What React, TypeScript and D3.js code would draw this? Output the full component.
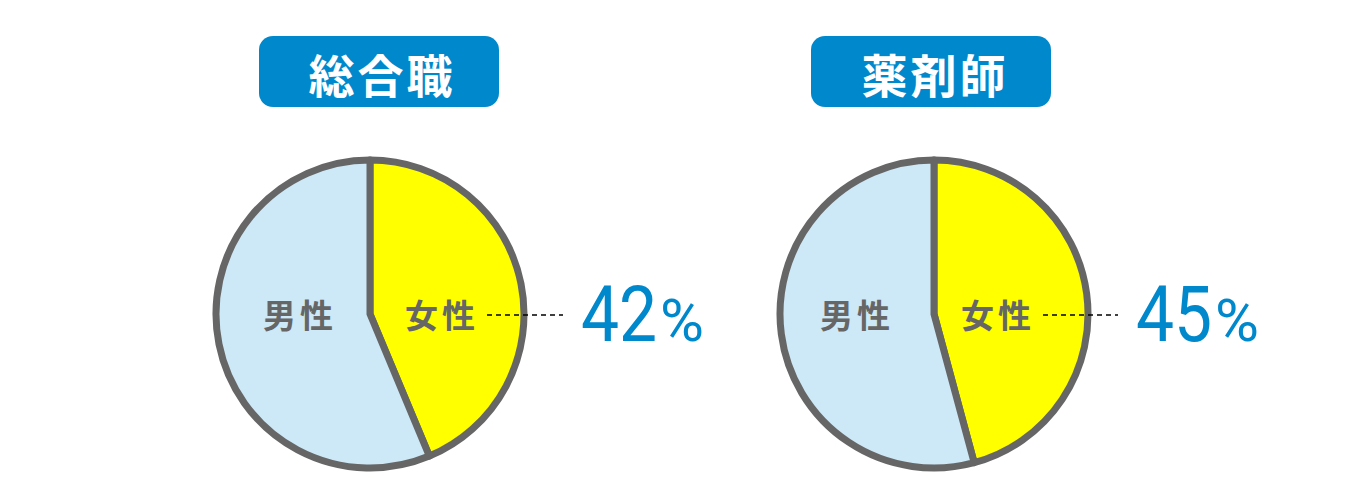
import * as d3 from 'd3';

// chart values
const titles = ['総合職', '薬剤師'];
const femaleLabel = [42, 45];
// slice sizes as drawn in the reference (the artwork is slightly off the printed %)
const femaleSlice = [43.7, 45.8];
const maleSlice = [56.3, 54.2];
const sliceNames = ['女性', '男性'];

const centers = [370, 934];
const badgeCenters = [379, 931];
const titleCenters = [382, 935];
const maleLabelDx = [-70, -77];
const femaleLabelDx = [72, 64];
const leaderStart = [117, 109];
const leaderEnd = [193, 184];
const pctStart = [211, 202];
const cy = 314;
const radius = 154;

const colors = {
  female: '#FFFF00',
  male: '#CDE8F6',
  stroke: '#666666',
  blue: '#0088CC',
  label: '#666666'
};

const jpFont = '"Noto Sans CJK JP", "Noto Sans", sans-serif';

interface Slice {
  name: string;
  value: number;
}

function PieGroup({ index }: { index: number }) {
  const cx = centers[index];
  const slices: Slice[] = [
    { name: sliceNames[0], value: femaleSlice[index] },
    { name: sliceNames[1], value: maleSlice[index] }
  ];
  const pie = d3.pie<Slice>().value(d => d.value).sort(null);
  const arc = d3.arc<d3.PieArcDatum<Slice>>().innerRadius(0).outerRadius(radius);
  const arcs = pie(slices);

  return (
    <g>
      {/* title badge */}
      <rect x={badgeCenters[index] - 120} y={36} width={240} height={71} rx={14} fill={colors.blue} />
      <text
        x={titleCenters[index]}
        y={73}
        textAnchor="middle"
        dominantBaseline="central"
        fill="#fff"
        fontFamily={jpFont}
        fontWeight={700}
        fontSize={46}
        letterSpacing={3}
      >
        {titles[index]}
      </text>

      <g transform={`translate(${cx},${cy})`}>
        {arcs.map((a, i) => (
          <path
            key={i}
            d={arc(a) || ''}
            fill={i === 0 ? colors.female : colors.male}
            stroke={colors.stroke}
            strokeWidth={7}
            strokeLinejoin="round"
          />
        ))}
        <text
          x={maleLabelDx[index]}
          y={0}
          textAnchor="middle"
          dominantBaseline="central"
          fill={colors.label}
          fontFamily={jpFont}
          fontWeight={700}
          fontSize={33}
          letterSpacing={4}
        >
          {sliceNames[1]}
        </text>
        <text
          x={femaleLabelDx[index]}
          y={0}
          textAnchor="middle"
          dominantBaseline="central"
          fill={colors.label}
          fontFamily={jpFont}
          fontWeight={700}
          fontSize={33}
          letterSpacing={4}
        >
          {sliceNames[0]}
        </text>
        <line
          x1={leaderStart[index]}
          x2={leaderEnd[index]}
          y1={1}
          y2={1}
          stroke="#000"
          strokeWidth={1.4}
          strokeDasharray="5 4"
        />
        <text
          transform={`translate(${pctStart[index]},27) scale(0.88,1)`}
          fill={colors.blue}
          fontFamily="Roboto, sans-serif"
          fontWeight={400}
          fontSize={77}
        >
          {femaleLabel[index]}
        </text>
        <text
          x={pctStart[index] + 79}
          y={27}
          fill={colors.blue}
          fontFamily="Roboto, sans-serif"
          fontWeight={400}
          fontSize={60}
        >
          %
        </text>
      </g>
    </g>
  );
}

export default function App() {
  return (
    <svg
      width={1360}
      height={500}
      style={{ position: 'absolute', left: 0, top: 0, background: '#fff' }}
    >
      {titles.map((t, i) => (
        <PieGroup key={t} index={i} />
      ))}
    </svg>
  );
}
